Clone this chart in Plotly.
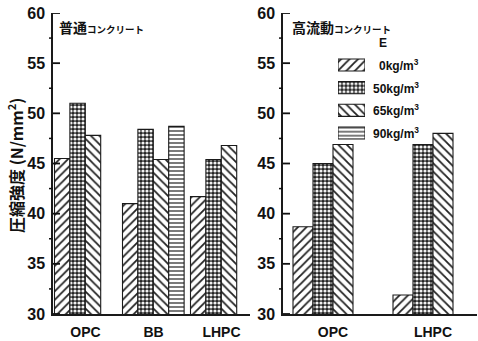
import plotly.graph_objects as go

# ---------------- data ----------------
series_names = ["0kg/m³", "50kg/m³", "65kg/m³", "90kg/m³"]
legend_labels = ["0kg/m<sup>3</sup>", "50kg/m<sup>3</sup>", "65kg/m<sup>3</sup>", "90kg/m<sup>3</sup>"]

left_categories = ["OPC", "BB", "LHPC"]
left_e0 = [45.5, 41.0, 41.7]
left_e50 = [51.0, 48.4, 45.4]
left_e65 = [47.8, 45.4, 46.8]
left_e90 = [None, 48.7, None]

right_categories = ["OPC", "LHPC"]
right_e0 = [38.7, 31.9]
right_e50 = [45.0, 46.9]
right_e65 = [46.9, 48.0]
right_e90 = [None, None]

y_major_ticks = [30, 35, 40, 45, 50, 55, 60]
y_minor_ticks = [32.5, 37.5, 42.5, 47.5, 52.5, 57.5]

left_title_big = "普通"
right_title_big = "高流動"
title_small = "コンクリート"
y_title = "圧縮強度 (N/mm<sup>2</sup>)"
legend_title = "E"

# ---------------- styles ----------------
W, H = 478, 341
def px_x(p):
    return p / W
def px_y(p):
    return 1 - p / H

patterns = [
    dict(shape="/", fgcolor="#222", bgcolor="white", size=6, solidity=0.3),
    dict(shape=".", fgcolor="#f2f2f2", bgcolor="#222", size=4, solidity=0.5),
    dict(shape="\\", fgcolor="#222", bgcolor="white", size=6, solidity=0.3),
    dict(shape="-", fgcolor="#222", bgcolor="white", size=4, solidity=0.3),
]
line_col = "#1a1a1a"
num_font = "Liberation Sans Narrow, Liberation Sans, Arial"
jp_font = "Noto Sans CJK JP"

fig = go.Figure()

left_vals = [left_e0, left_e50, left_e65, left_e90]
right_vals = [right_e0, right_e50, right_e65, right_e90]

lw = 0.2265
loff = -0.456
for i, vals in enumerate(left_vals):
    fig.add_trace(go.Bar(
        x=left_categories, y=vals, name=series_names[i],
        xaxis="x", yaxis="y", width=lw, offset=loff + i * lw,
        marker=dict(color="white", pattern=patterns[i], line=dict(color=line_col, width=1.1)),
        showlegend=False,
    ))

rw = 0.2
roff = -0.4
for i, vals in enumerate(right_vals):
    fig.add_trace(go.Bar(
        x=right_categories, y=vals, name=series_names[i],
        xaxis="x2", yaxis="y2", width=rw, offset=roff + i * rw,
        marker=dict(color="white", pattern=patterns[i], line=dict(color=line_col, width=1.1)),
        showlegend=False,
    ))

# legend swatches drawn as horizontal bars on a helper axis
for i in range(4):
    fig.add_trace(go.Bar(
        x=[1], y=[i], orientation="h", xaxis="x3", yaxis="y3", width=0.53,
        marker=dict(color="white", pattern=patterns[i], line=dict(color=line_col, width=1.1)),
        showlegend=False, hoverinfo="skip",
    ))

ydom = [px_y(314), px_y(13)]
y_base = dict(
    range=[30, 60], tickmode="array", tickvals=y_major_ticks,
    ticks="", showline=True, linecolor=line_col, linewidth=1.5, showgrid=False, zeroline=False,
    tickfont=dict(family=num_font, size=16, color="#111", weight="bold"),
    ticklabelstandoff=3, domain=ydom, automargin=False,
)
xax_common = dict(
    showline=True, linecolor=line_col, linewidth=1.5, ticks="", showgrid=False, zeroline=False,
    tickfont=dict(family=num_font, size=14, color="#111", weight="bold"),
    ticklabelstandoff=4, automargin=False,
)

left_dom = [px_x(53), px_x(250)]
right_dom = [px_x(283), px_x(477)]

fig.update_layout(
    template="none",
    width=W, height=H, margin=dict(l=0, r=0, t=0, b=0, autoexpand=False),
    paper_bgcolor="white", plot_bgcolor="rgba(0,0,0,0)",
    barmode="overlay",
    xaxis=dict(domain=left_dom, range=[-0.478, 2.419], anchor="y", **xax_common),
    yaxis=dict(anchor="x", **y_base),
    xaxis2=dict(domain=right_dom, range=[-0.5, 1.44], anchor="y2", **xax_common),
    yaxis2=dict(anchor="x2", **y_base),
    xaxis3=dict(domain=[px_x(338), px_x(365)], range=[0, 1], anchor="y3", visible=False,
                fixedrange=True, automargin=False),
    yaxis3=dict(domain=[px_y(144.3), px_y(53.7)], range=[3.5, -0.5], anchor="x3", visible=False,
                fixedrange=True, automargin=False),
)

# axis tick marks (major inside, minor outside) drawn as shapes in paper-x / data-y
shapes = []
for yr, dom in (("y", left_dom), ("y2", right_dom)):
    x_axis = dom[0]
    for v in y_major_ticks:
        shapes.append(dict(type="line", xref="paper", yref=yr, x0=x_axis, x1=x_axis + 7 / W,
                           y0=v, y1=v, line=dict(color="#111", width=1.8), layer="above"))
    for v in y_minor_ticks:
        shapes.append(dict(type="line", xref="paper", yref=yr, x0=x_axis - 4 / W, x1=x_axis,
                           y0=v, y1=v, line=dict(color="#111", width=1.5), layer="above"))
fig.update_layout(shapes=shapes)

ann = []
ann.append(dict(
    x=px_x(57), y=px_y(27), xref="paper", yref="paper", xanchor="left", yanchor="middle",
    showarrow=False,
    text=f"<b><span style='font-size:14px'>{left_title_big}</span><span style='font-size:9.5px'>{title_small}</span></b>",
    font=dict(family=jp_font, color="#111"),
))
ann.append(dict(
    x=px_x(290), y=px_y(27), xref="paper", yref="paper", xanchor="left", yanchor="middle",
    showarrow=False,
    text=f"<b><span style='font-size:14px'>{right_title_big}</span><span style='font-size:9.5px'>{title_small}</span></b>",
    font=dict(family=jp_font, color="#111"),
))
ann.append(dict(
    x=px_x(15), y=px_y(166), xref="paper", yref="paper", xanchor="center", yanchor="middle",
    showarrow=False, textangle=-90, text=f"<b>{y_title}</b>",
    font=dict(family=jp_font, size=16, color="#111"),
))
ann.append(dict(
    x=px_x(383), y=px_y(43), xref="paper", yref="paper", xanchor="center", yanchor="middle",
    showarrow=False, text=f"<b>{legend_title}</b>",
    font=dict(family=num_font, size=12, color="#111"),
))
for i, lab in enumerate(legend_labels):
    ann.append(dict(
        x=px_x(421), y=i, xref="paper", yref="y3", xanchor="right", yanchor="middle",
        showarrow=False, text=f"<b>{lab}</b>",
        font=dict(family=num_font, size=12, color="#111"),
    ))
fig.update_layout(annotations=ann)

fig.write_html(
    "out.html",
    config={"displayModeBar": False},
    post_script="document.body.style.margin='0';document.body.style.overflow='hidden';",
)
